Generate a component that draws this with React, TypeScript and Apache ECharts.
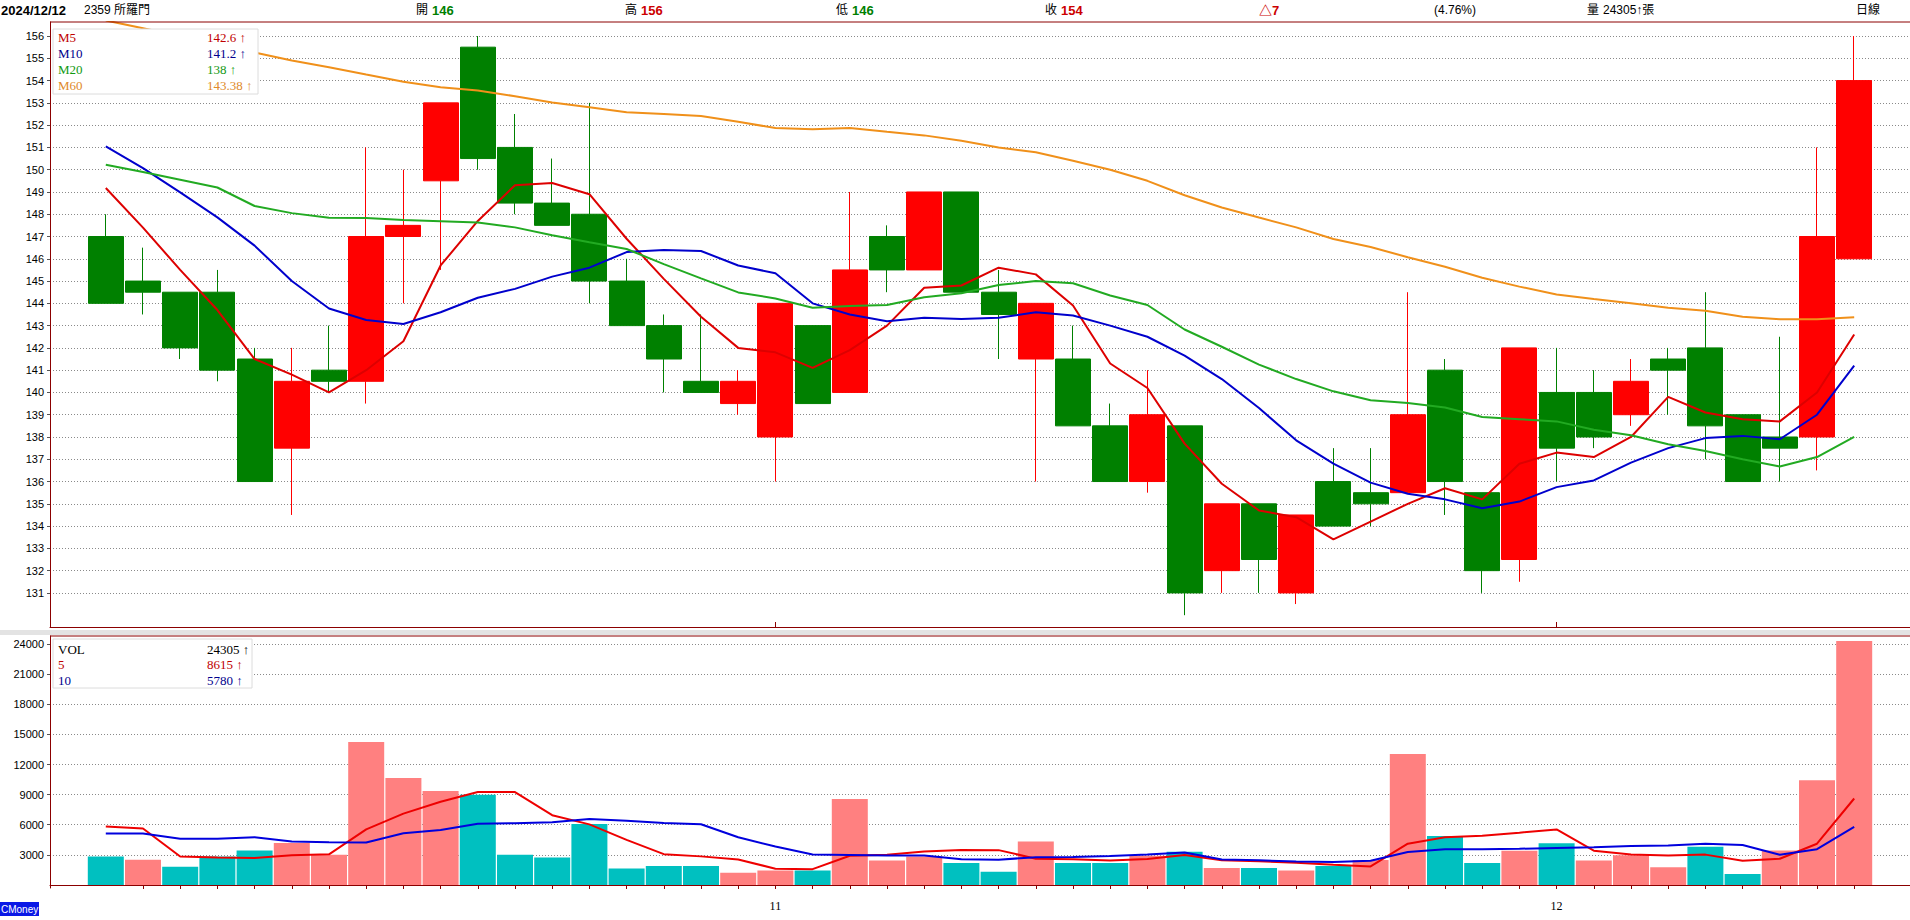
import React, { useEffect, useRef } from 'react';
import * as echarts from 'echarts';

const stockName = '2359 所羅門';
const periodLabel = '日線';

const dates = [
  '2024/10/04','2024/10/07','2024/10/08','2024/10/09','2024/10/11','2024/10/14','2024/10/15','2024/10/16','2024/10/17','2024/10/18','2024/10/21','2024/10/22','2024/10/23','2024/10/24','2024/10/25','2024/10/28','2024/10/29','2024/10/30',
  '2024/11/01','2024/11/04','2024/11/05','2024/11/06','2024/11/07','2024/11/08','2024/11/11','2024/11/12','2024/11/13','2024/11/14','2024/11/15','2024/11/18','2024/11/19','2024/11/20','2024/11/21','2024/11/22','2024/11/25','2024/11/26','2024/11/27','2024/11/28','2024/11/29',
  '2024/12/02','2024/12/03','2024/12/04','2024/12/05','2024/12/06','2024/12/09','2024/12/10','2024/12/11','2024/12/12'
];

const opens = [147,145,144.5,144.5,141.5,137.5,141,140.5,147,149.5,155.5,151,148.5,148,145,143,140.5,139.5,138,143,140,147,145.5,149,144.5,141.5,141.5,138.5,136,138.5,132,135,131,136,135.5,135.5,141,135.5,132.5,140,140,139,141.5,142,139,138,138,146];
const highs = [148,146.5,144.5,145.5,142,142,143,151,150,153,156,152.5,150.5,153,146,143.5,143.5,141,144,143,149,147.5,149,149,145.5,144,143,139.5,141,138.5,135,135,134.5,137.5,137.5,144.5,141.5,135.5,142,142,141,141.5,142,144.5,139,142.5,151,156];
const lows = [144,143.5,141.5,140.5,136,134.5,140,139.5,144,145.5,150,148,147.5,144,143,140,140,139,136,139.5,140,144.5,145.5,144.5,141.5,136,138.5,136,135.5,130,131,131,130.5,134,134,135.5,134.5,131,131.5,136,137.5,138.5,139,137,136,136,136.5,146];
const closes = [144,144.5,142,141,136,140.5,140.5,147,147.5,153,150.5,148.5,147.5,145,143,141.5,140,140.5,144,139.5,145.5,145.5,149,144.5,143.5,144,138.5,136,139,131,135,132.5,134.5,134,135,139,136,132,142,137.5,138,140.5,141,138.5,136,137.5,147,154];

const ma5 = [149.18,147.4,145.5,143.7,141.5,140.8,140.0,141.0,142.3,145.7,147.7,149.3,149.4,148.9,146.9,145.1,143.4,142.0,141.8,141.1,141.9,143.0,144.7,144.8,145.6,145.3,143.9,141.3,140.2,137.7,135.9,134.7,134.4,133.4,134.2,135.0,135.7,135.2,136.8,137.3,137.1,138.0,139.8,139.1,138.8,138.7,140.0,142.6];
const ma10 = [151.05,150.07,148.98,147.86,146.59,145.0,143.77,143.25,143.07,143.6,144.25,144.65,145.2,145.6,146.3,146.4,146.35,145.7,145.35,144.0,143.5,143.2,143.35,143.3,143.35,143.6,143.45,143.0,142.5,141.65,140.6,139.3,137.85,136.8,135.95,135.45,135.2,134.8,135.1,135.75,136.05,136.85,137.5,137.95,138.05,137.9,139.0,141.2];
const ma20 = [150.22,149.9,149.55,149.2,148.37,148.05,147.84,147.83,147.74,147.69,147.63,147.41,147.06,146.74,146.44,145.76,145.12,144.49,144.22,143.8,143.875,143.925,144.275,144.45,144.825,145.0,144.9,144.35,143.925,142.825,142.05,141.25,140.6,140.05,139.65,139.525,139.325,138.9,138.8,138.7,138.325,138.075,137.675,137.375,137.0,136.675,137.1,138.0];
const ma60 = [156.7,156.35,156.0,155.63,155.26,154.9,154.6,154.27,153.95,153.7,153.55,153.3,153.02,152.8,152.58,152.5,152.41,152.15,151.87,151.81,151.87,151.7,151.54,151.3,151.0,150.78,150.4,150.0,149.5,148.85,148.3,147.85,147.41,146.89,146.53,146.07,145.64,145.15,144.75,144.4,144.19,144.0,143.8,143.67,143.4,143.29,143.29,143.38];

const volumes = [2830,2505,1805,2830,3430,4190,3000,14250,10660,9370,9000,3000,2730,6080,1640,1900,1900,1210,1440,1440,8570,2440,2830,2200,1310,4330,2200,2200,2900,3300,1700,1700,1440,1900,2500,13050,4890,2200,3400,4150,2450,2950,1775,3800,1090,3440,10440,24305];
const volMa5 = [5820,5620,2830,2730,2680,2952,3051,5540,7106,8294,9256,9256,6952,6036,4490,3070,2850,2546,1618,1578,2912,3020,3344,3496,3470,2622,2574,2448,2588,2986,2460,2360,2208,2008,1848,4118,4756,4908,5208,5538,3418,3030,2945,3025,2413,2611,4109,8615];
const volMa10 = [5125,5125,4595,4595,4760,4330,4264,4230,5160,5487,6104,6154,6246,6571,6392,6163,6053,4749,3827,3034,2991,2935,2945,2557,2524,2767,2797,2896,3042,3228,2541,2467,2328,2298,2417,3289,3558,3558,3608,3693,3768,3893,3927,4117,3976,3015,3570,5780];

const priceTickLabels = [131,132,133,134,135,136,137,138,139,140,141,142,143,144,145,146,147,148,149,150,151,152,153,154,155,156];
const volTickLabels = [3000,6000,9000,12000,15000,18000,21000,24000];

const priceLegend = [
  { name: 'M5', data: ma5, line: '#dd0000', text: '#c00000' },
  { name: 'M10', data: ma10, line: '#0000cc', text: '#00008c' },
  { name: 'M20', data: ma20, line: '#22aa22', text: '#119911' },
  { name: 'M60', data: ma60, line: '#f0901a', text: '#e08a2a' },
];
const volLegend = [
  { name: 'VOL', data: volumes, line: '', text: '#000000' },
  { name: '5', data: volMa5, line: '#ee0000', text: '#c00000' },
  { name: '10', data: volMa10, line: '#0000dd', text: '#00008c' },
];

const UP = '#ff0000';
const DOWN = '#008000';
const VOL_UP = '#ff8080';
const VOL_DOWN = '#00c0c0';
const FRAME = '#8b0000';
const GRIDLINE = '#8a8a8a';
const SANS = '"Liberation Sans", "Noto Sans CJK TC", sans-serif';
const SERIF = '"Liberation Serif", "Noto Sans CJK TC", serif';

const fmt = (v: number) => String(Math.round(v * 100) / 100);
const arrow = (arr: number[]) => (arr[arr.length - 1] >= arr[arr.length - 2] ? '↑' : '↓');

export default function App() {
  const ref = useRef<HTMLDivElement>(null);

  useEffect(() => {
    const el = ref.current!;
    const chart = echarts.init(el, null, { renderer: 'svg', width: 1910, height: 920 });

    const n = dates.length;
    const cats = ['', ...dates, ''];
    const slot = 37.362;
    const gridLeft = 50;
    const gridWidth = slot * cats.length;

    const monthOf = (d: string) => d.split('/')[1];
    const isMonthStart = (catIdx: number) => {
      const i = catIdx - 1;
      if (i <= 0 || i >= n) return false;
      return monthOf(dates[i]) !== monthOf(dates[i - 1]);
    };

    const pair = (arr: number[]) => arr.map((v, i) => [i + 1, v]);
    const candleData = dates.map((_, i) => [i + 1, opens[i], closes[i], lows[i], highs[i]]);
    const volData = volumes.map((v, i) => ({
      value: [i + 1, v],
      itemStyle: { color: i > 0 && closes[i] >= closes[i - 1] ? VOL_UP : VOL_DOWN },
    }));

    const last = n - 1;
    const chg = closes[last] - closes[last - 1];
    const pct = ((chg / closes[last - 1]) * 100).toFixed(2);

    const headerY = 10;
    const hText = (x: number, text: string, fill: string, bold = false, size = 12) => ({
      type: 'text', x, y: headerY, z: 100,
      style: { text, fill, fontSize: size, fontWeight: bold ? 'bold' : 'normal', fontFamily: SANS, verticalAlign: 'middle' },
    });

    const legendTexts: any[] = [];
    priceLegend.forEach((l, k) => {
      const y = 37 + k * 16.3;
      legendTexts.push({ type: 'text', x: 58, y, z: 101, style: { text: l.name, fill: l.text, fontSize: 13, fontFamily: SERIF, verticalAlign: 'middle' } });
      legendTexts.push({ type: 'text', x: 207, y, z: 101, style: { text: fmt(l.data[l.data.length - 1]) + ' ' + arrow(l.data), fill: l.text, fontSize: 13, fontFamily: SERIF, verticalAlign: 'middle' } });
    });
    volLegend.forEach((l, k) => {
      const y = 649 + k * 15.5;
      legendTexts.push({ type: 'text', x: 58, y, z: 101, style: { text: l.name, fill: l.text, fontSize: 13, fontFamily: SERIF, verticalAlign: 'middle' } });
      legendTexts.push({ type: 'text', x: 207, y, z: 101, style: { text: fmt(l.data[l.data.length - 1]) + ' ' + arrow(l.data), fill: l.text, fontSize: 13, fontFamily: SERIF, verticalAlign: 'middle' } });
    });

    const option: any = {
      animation: false,
      backgroundColor: '#ffffff',
      grid: [
        { left: gridLeft, top: 22, width: gridWidth, height: 605 },
        { left: gridLeft, top: 636, width: gridWidth, height: 252 },
      ],
      xAxis: [
        {
          type: 'category', gridIndex: 0, data: cats, boundaryGap: true,
          axisLine: { show: true, lineStyle: { color: FRAME, width: 1 } },
          axisTick: { show: true, inside: true, length: 5, alignWithLabel: true, interval: (i: number) => isMonthStart(i), lineStyle: { color: FRAME } },
          axisLabel: { show: false },
          splitLine: { show: false },
        },
        {
          type: 'category', gridIndex: 1, data: cats, boundaryGap: true,
          axisLine: { show: true, lineStyle: { color: FRAME, width: 1 } },
          axisTick: { show: true, length: 4, alignWithLabel: true, interval: (i: number) => i >= 2 && i <= n, lineStyle: { color: FRAME } },
          axisLabel: {
            show: true, interval: (i: number) => isMonthStart(i), margin: 12,
            formatter: (v: string) => (v ? String(parseInt(monthOf(v), 10)) : ''),
            fontSize: 12, fontFamily: SERIF, color: '#000',
          },
          splitLine: { show: false },
        },
      ],
      yAxis: [
        {
          type: 'value', gridIndex: 0, min: 129.47, max: 156.63, splitNumber: 27, minInterval: 1, maxInterval: 1,
          axisLine: { show: true, lineStyle: { color: FRAME, width: 1 } },
          axisTick: { show: true, length: 3, customValues: priceTickLabels, lineStyle: { color: '#555' } },
          axisLabel: {
            fontSize: 11, fontFamily: SANS, color: '#000', margin: 6, customValues: priceTickLabels,
            formatter: (v: number) => (priceTickLabels.indexOf(v) >= 0 ? String(v) : ''),
          },
          splitLine: { show: true, lineStyle: { color: GRIDLINE, width: 1, type: [1, 2] } },
        },
        {
          type: 'value', gridIndex: 1, min: -300, max: 24800, splitNumber: 8, minInterval: 3000, maxInterval: 3000,
          axisLine: { show: true, lineStyle: { color: FRAME, width: 1 } },
          axisTick: { show: true, length: 3, customValues: volTickLabels, lineStyle: { color: '#555' } },
          axisLabel: {
            fontSize: 11, fontFamily: SANS, color: '#000', margin: 6, customValues: volTickLabels,
            formatter: (v: number) => (volTickLabels.indexOf(v) >= 0 ? String(v) : ''),
          },
          splitLine: { show: true, lineStyle: { color: GRIDLINE, width: 1, type: [1, 2] } },
        },
      ],
      series: [
        {
          type: 'candlestick', xAxisIndex: 0, yAxisIndex: 0, data: candleData,
          encode: { x: 0, y: [1, 2, 3, 4] }, barWidth: 35.5, z: 2, silent: true,
          itemStyle: { color: UP, color0: DOWN, borderColor: UP, borderColor0: DOWN, borderWidth: 1 },
        },
        ...priceLegend.map((l) => ({
          type: 'line', xAxisIndex: 0, yAxisIndex: 0, data: pair(l.data), symbol: 'none', showSymbol: false,
          lineStyle: { width: 2, color: l.line }, z: 3, silent: true, clip: true,
        })),
        {
          type: 'bar', xAxisIndex: 1, yAxisIndex: 1, data: volData, barWidth: 36, z: 2, silent: true,
        },
        ...volLegend.slice(1).map((l) => ({
          type: 'line', xAxisIndex: 1, yAxisIndex: 1, data: pair(l.data), symbol: 'none', showSymbol: false,
          lineStyle: { width: 2, color: l.line }, z: 3, silent: true,
        })),
      ],
      graphic: [
        { type: 'line', z: 90, shape: { x1: gridLeft, y1: 22, x2: 1910, y2: 22 }, style: { stroke: FRAME, lineWidth: 1 } },
        { type: 'rect', z: 90, shape: { x: 0, y: 630, width: 1910, height: 5 }, style: { fill: '#e3e3e3' } },
        { type: 'line', z: 90, shape: { x1: gridLeft, y1: 636, x2: 1910, y2: 636 }, style: { stroke: FRAME, lineWidth: 1 } },
        hText(1, dates[last], '#000', true, 13),
        hText(84, stockName, '#000'),
        hText(416, '開', '#000'),
        hText(432, fmt(opens[last]), DOWN, true, 13),
        hText(625, '高', '#000'),
        hText(641, fmt(highs[last]), '#cc0000', true, 13),
        hText(836, '低', '#000'),
        hText(852, fmt(lows[last]), DOWN, true, 13),
        hText(1045, '收', '#000'),
        hText(1061, fmt(closes[last]), '#cc0000', true, 13),
        hText(1259, '△' + fmt(chg), '#cc0000', true, 13),
        hText(1434, '(' + pct + '%)', '#000'),
        hText(1587, '量', '#000'),
        hText(1603, volumes[last] + (volumes[last] >= volumes[last - 1] ? '↑' : '↓') + '張', '#000'),
        hText(1856, periodLabel, '#000'),
        { type: 'rect', z: 100, shape: { x: 53, y: 29, width: 205, height: 65 }, style: { fill: '#ffffff', stroke: '#dcdcdc', lineWidth: 1 } },
        { type: 'rect', z: 100, shape: { x: 53, y: 639, width: 199, height: 49 }, style: { fill: '#ffffff', stroke: '#dcdcdc', lineWidth: 1 } },
        ...legendTexts,
        { type: 'rect', z: 100, shape: { x: 0, y: 902, width: 39, height: 14 }, style: { fill: '#0a18e6' } },
        { type: 'text', z: 101, x: 1, y: 909, style: { text: 'CMoney', fill: '#ffffff', fontSize: 10, fontFamily: SANS, verticalAlign: 'middle' } },
      ],
    };

    chart.setOption(option);
    return () => chart.dispose();
  }, []);

  return (
    <div
      ref={ref}
      style={{ position: 'fixed', left: 0, top: 0, width: 1910, height: 920, background: '#ffffff' }}
    />
  );
}
